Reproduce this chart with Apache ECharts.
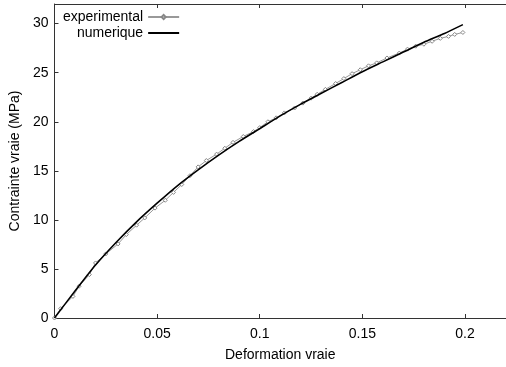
<!DOCTYPE html>
<html>
<head>
<meta charset="utf-8">
<script src="https://cdn.jsdelivr.net/npm/echarts@6/dist/echarts.min.js"></script>
<style>
  html, body { margin: 0; padding: 0; background: #fff; }
  #chart { width: 506px; height: 367px; }
</style>
</head>
<body>
<div id="chart"></div>
<script>
// experimental points (strain, true stress in MPa)
const expStrain = [0, 0.003, 0.009, 0.012, 0.017, 0.020, 0.025, 0.031, 0.035, 0.040, 0.044,
  0.049, 0.054, 0.058, 0.062, 0.066, 0.070, 0.074, 0.079, 0.083, 0.087, 0.092, 0.097,
  0.100, 0.104, 0.108, 0.112, 0.117, 0.121, 0.125, 0.128, 0.132, 0.137, 0.141, 0.145,
  0.149, 0.153, 0.157, 0.162, 0.168, 0.172, 0.176, 0.180, 0.184, 0.188, 0.192, 0.195, 0.199];
const expStress = [0, 0.95, 2.2, 3.24, 4.42, 5.61, 6.53, 7.55, 8.5, 9.46, 10.2,
  11.2, 12.0, 12.8, 13.6, 14.5, 15.4, 16.05, 16.7, 17.3, 17.9, 18.5, 19.0,
  19.4, 20.0, 20.4, 20.9, 21.4, 21.9, 22.4, 22.8, 23.3, 23.9, 24.4, 24.9,
  25.3, 25.7, 26.0, 26.5, 27.0, 27.4, 27.7, 27.9, 28.2, 28.5, 28.7, 28.9, 29.1];

// numerical curve
const numStrain = [0, 0.01, 0.02, 0.03, 0.04, 0.05, 0.06, 0.07, 0.08, 0.09, 0.1,
  0.11, 0.12, 0.13, 0.14, 0.15, 0.16, 0.17, 0.18, 0.19, 0.199];
const numStress = [0, 2.75, 5.4, 7.7, 9.8, 11.7, 13.5, 15.1, 16.6, 18.0, 19.3,
  20.6, 21.8, 22.9, 24.0, 25.1, 26.1, 27.1, 28.1, 29.0, 29.9];

const xTicks = [0, 0.05, 0.1, 0.15, 0.2];

const font = 'Liberation Sans, Arial, sans-serif';

const zip = (a, b) => a.map((v, i) => [v, b[i]]);

const chart = echarts.init(document.getElementById('chart'), null, { renderer: 'canvas' });

const axisBase = {
  axisLine: { show: true, onZero: false, lineStyle: { color: '#333', width: 1 } },
  axisTick: { show: true, inside: true, length: 4, lineStyle: { color: '#333' } },
  splitLine: { show: false },
};

chart.setOption({
  animation: false,
  backgroundColor: '#fff',
  grid: { left: 51, right: -3, top: 4, bottom: 47 },
  legend: {
    orient: 'vertical',
    left: 58,
    top: 5,
    align: 'right',
    itemWidth: 31,
    itemHeight: 5,
    itemGap: 2,
    textStyle: { fontFamily: font, fontSize: 14, color: '#000' },
    data: [
      { name: 'experimental' },
      { name: 'numerique', itemStyle: { opacity: 0 } },
    ],
  },
  xAxis: [
    {
      ...axisBase,
      type: 'value',
      min: 0,
      max: 0.22,
      interval: 0.05,
      name: 'Deformation vraie',
      nameLocation: 'middle',
      nameGap: 30,
      nameTextStyle: { fontFamily: font, fontSize: 14, color: '#000' },
      axisLabel: {
        fontFamily: font, fontSize: 14, color: '#000', margin: 9,
        showMaxLabel: false,
        formatter: (v) => (xTicks.some((t) => Math.abs(t - v) < 1e-9) ? String(v) : ''),
      },
    },
    {
      ...axisBase,
      type: 'value',
      position: 'top',
      min: 0,
      max: 0.22,
      interval: 0.05,
      axisLabel: { show: false },
    },
  ],
  yAxis: [
    {
      ...axisBase,
      type: 'value',
      min: 0,
      max: 32,
      interval: 5,
      name: 'Contrainte vraie (MPa)',
      nameLocation: 'middle',
      nameGap: 28,
      nameTextStyle: { fontFamily: font, fontSize: 14, color: '#000' },
      axisLabel: {
        fontFamily: font, fontSize: 14, color: '#000', margin: 6,
        showMaxLabel: false,
      },
    },
  ],
  series: [
    {
      name: 'experimental',
      type: 'line',
      data: zip(expStrain, expStress),
      symbol: 'diamond',
      symbolSize: 4,
      showAllSymbol: true,
      itemStyle: { color: '#fff', borderColor: '#888', borderWidth: 1 },
      lineStyle: { color: '#999', width: 1 },
      z: 2,
    },
    {
      name: 'numerique',
      type: 'line',
      data: zip(numStrain, numStress),
      smooth: 0.2,
      symbol: 'none',
      itemStyle: { color: '#000' },
      lineStyle: { color: '#000', width: 1.6 },
      z: 3,
    },
  ],
});
</script>
</body>
</html>
